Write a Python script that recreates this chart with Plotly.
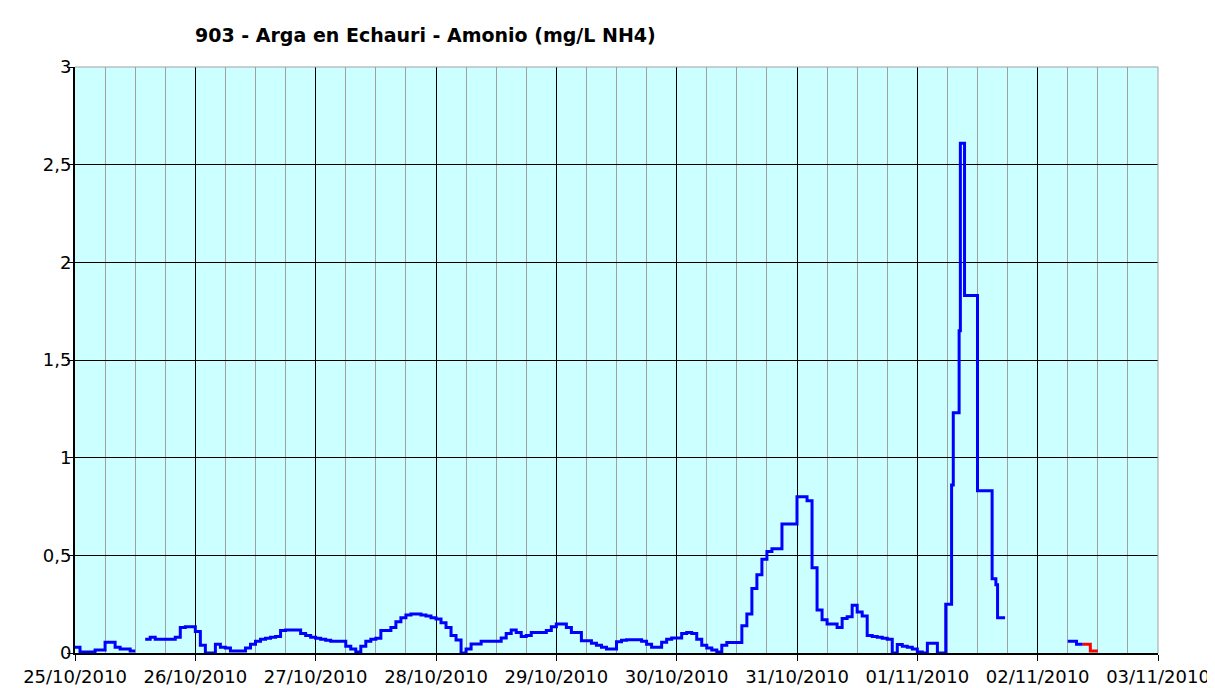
import pandas as pd
import plotly.graph_objects as go

# Amonio (mg/L NH4), valores horarios desde el 25/10/2010 00:00
nh4_25 = [0.03, 0.005, 0.005, 0.005, 0.015, 0.015, 0.055, 0.055, 0.03, 0.02, 0.02, 0.01,
          0.01, None, 0.07, 0.08, 0.07, 0.07, 0.07, 0.07, 0.08, 0.13, 0.135, 0.135]
nh4_26 = [0.11, 0.04, 0.0, 0.0, 0.045, 0.03, 0.025, 0.01, 0.01, 0.01, 0.025, 0.045,
          0.06, 0.07, 0.075, 0.08, 0.085, 0.115, 0.118, 0.118, 0.118, 0.1, 0.09, 0.08]
nh4_27 = [0.075, 0.07, 0.065, 0.06, 0.06, 0.06, 0.035, 0.02, 0.005, 0.035, 0.06, 0.07,
          0.075, 0.115, 0.115, 0.13, 0.16, 0.18, 0.195, 0.2, 0.2, 0.195, 0.19, 0.18]
nh4_28 = [0.174, 0.155, 0.13, 0.09, 0.067, 0.0, 0.02, 0.046, 0.046, 0.06, 0.06, 0.06,
          0.06, 0.077, 0.1, 0.118, 0.105, 0.085, 0.09, 0.105, 0.105, 0.105, 0.115, 0.135]
nh4_29 = [0.148, 0.148, 0.13, 0.105, 0.105, 0.063, 0.063, 0.05, 0.04, 0.03, 0.02, 0.02,
          0.058, 0.065, 0.068, 0.068, 0.068, 0.06, 0.045, 0.03, 0.03, 0.055, 0.07, 0.077]
nh4_30 = [0.077, 0.1, 0.105, 0.1, 0.07, 0.04, 0.025, 0.015, 0.005, 0.04, 0.054, 0.054,
          0.054, 0.14, 0.2, 0.33, 0.4, 0.48, 0.52, 0.534, 0.534, 0.66, 0.66, 0.66]
nh4_31 = [0.8, 0.8, 0.78, 0.437, 0.22, 0.17, 0.148, 0.148, 0.13, 0.177, 0.185, 0.245,
          0.21, 0.19, 0.09, 0.085, 0.08, 0.075, 0.07, 0.0, 0.044, 0.035, 0.03, 0.02]
nh4_01 = [0.005, 0.0, 0.05, 0.05, 0.0, 0.0]

# pico del 01/11 (lecturas no horarias)
pico_horas = ["2010-11-01 05:40", "2010-11-01 06:50", "2010-11-01 07:10", "2010-11-01 08:20",
              "2010-11-01 08:35", "2010-11-01 09:25", "2010-11-01 12:00", "2010-11-01 14:55",
              "2010-11-01 15:40", "2010-11-01 16:00", "2010-11-01 17:30", "2010-11-01 18:00"]
pico_nh4 = [0.25, 0.86, 1.23, 1.65, 2.61, 1.83, 0.83, 0.38, 0.35, 0.18, 0.18, None]

tramo_horas = ["2010-11-02 06:00", "2010-11-02 07:45", "2010-11-02 09:00"]
tramo_nh4 = [0.06, 0.045, 0.045]

# datos provisionales (rojo)
rojo_horas = ["2010-11-02 09:00", "2010-11-02 10:30", "2010-11-02 12:00"]
rojo_nh4 = [0.045, 0.01, 0.01]

horario = nh4_25 + nh4_26 + nh4_27 + nh4_28 + nh4_29 + nh4_30 + nh4_31 + nh4_01
t_horario = list(pd.date_range("2010-10-25", periods=len(horario), freq="h"))
t_azul = t_horario + list(pd.to_datetime(pico_horas)) + list(pd.to_datetime(tramo_horas))
v_azul = horario + pico_nh4 + tramo_nh4

fig = go.Figure()
fig.add_trace(go.Scatter(x=t_azul, y=v_azul, mode="lines", line_shape="hv",
                         line=dict(color="#0000FF", width=3), connectgaps=False))
fig.add_trace(go.Scatter(x=pd.to_datetime(rojo_horas), y=rojo_nh4, mode="lines", line_shape="hv",
                         line=dict(color="#FF0000", width=3)))

# la pagina deja 8 px de margen en el body: figura algo menor para que quepa
fig.update_layout(
    width=1207, height=680,
    margin=dict(l=67, r=57, t=59, b=35),
    paper_bgcolor="white", plot_bgcolor="#CCFFFF",
    showlegend=False,
    separators=",.",
    font=dict(family="DejaVu Sans", size=18, color="black"),
    title=dict(text="<b>903 - Arga en Echauri - Amonio (mg/L NH4)</b>",
               x=187 / 1207, xanchor="left", xref="container",
               y=1 - 27 / 680, yanchor="middle", yref="container",
               font=dict(family="DejaVu Sans", size=19, color="black")),
)
fig.update_xaxes(
    type="date", range=["2010-10-25", "2010-11-03"],
    dtick=86400000, tick0="2010-10-25", tickformat="%d/%m/%Y",
    showgrid=True, gridcolor="black", gridwidth=1,
    minor=dict(dtick=6 * 3600000, showgrid=True, gridcolor="#A0A0A0", gridwidth=1),
    ticks="outside", ticklen=6, tickcolor="black", ticklabelstandoff=0,
    showline=True, linecolor="black", linewidth=2,
    zeroline=False, automargin=False,
)
fig.update_yaxes(
    range=[0, 3], dtick=0.5,
    showgrid=True, gridcolor="black", gridwidth=1,
    ticks="outside", ticklen=6, tickcolor="black", ticklabelstandoff=-8,
    showline=True, linecolor="black", linewidth=2,
    zeroline=False, automargin=False,
)
fig.add_shape(type="line", xref="paper", yref="paper", x0=0, x1=1, y0=1, y1=1,
              line=dict(color="#A0A0A0", width=1))
fig.add_shape(type="line", xref="paper", yref="paper", x0=1, x1=1, y0=0, y1=1,
              line=dict(color="#A0A0A0", width=1))

fig.write_html("out.html")
